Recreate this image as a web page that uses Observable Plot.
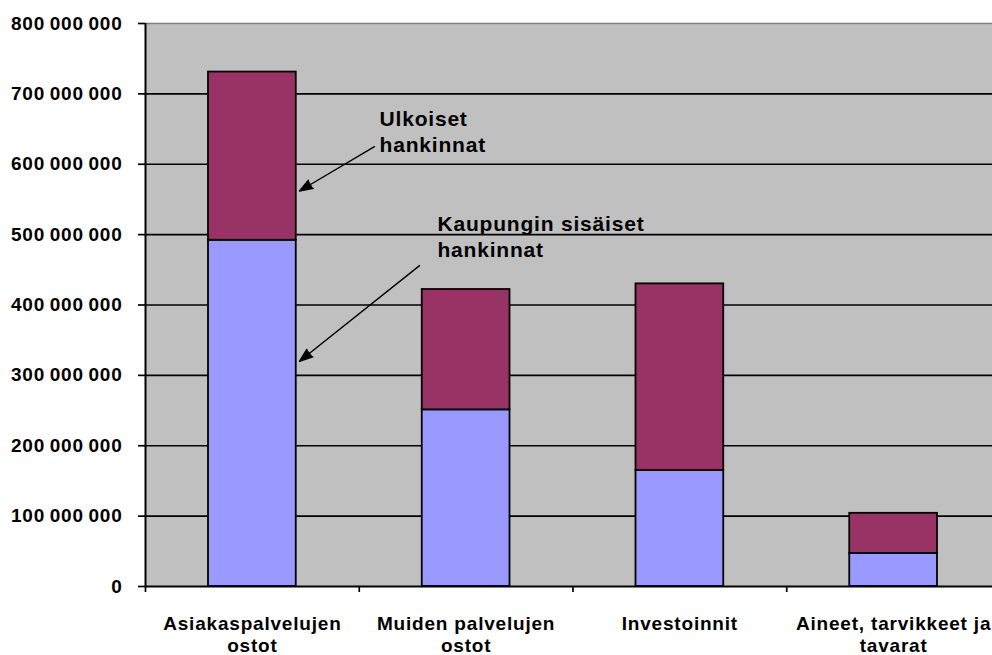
<!DOCTYPE html>
<html>
<head>
<meta charset="utf-8">
<script src="https://cdn.jsdelivr.net/npm/d3@7"></script>
<script src="https://cdn.jsdelivr.net/npm/@observablehq/plot@0.6"></script>
<style>
  html, body { margin: 0; padding: 0; background: white; overflow: hidden; }
  svg { overflow: hidden; }
</style>
</head>
<body>
<div id="chart"></div>
<script>
// Data
const categories = ["Asiakaspalvelujen\nostot", "Muiden palvelujen\nostot", "Investoinnit", "Aineet, tarvikkeet ja\ntavarat"];
const internalValues = [492e6, 251e6, 165e6, 47e6];   // Kaupungin sisäiset hankinnat
const externalValues = [239e6, 171e6, 265e6, 57e6];   // Ulkoiset hankinnat
const yTicks = [0, 100e6, 200e6, 300e6, 400e6, 500e6, 600e6, 700e6, 800e6];
const annotations = [
  {label: "Ulkoiset\nhankinnat", x: 0.595, y: 648e6, ax1: 0.571, ay1: 625e6, ax2: 0.2205, ay2: 562e6},
  {label: "Kaupungin sisäiset\nhankinnat", x: 0.866, y: 498e6, ax1: 0.782, ay1: 456e6, ax2: 0.2205, ay2: 320e6}
];

const bars = [];
categories.forEach((c, i) => {
  bars.push({i, series: "Kaupungin sisäiset hankinnat", y1: 0, y2: internalValues[i]});
  bars.push({i, series: "Ulkoiset hankinnat", y1: internalValues[i], y2: internalValues[i] + externalValues[i]});
});

const fmt = d => d3.format(",")(d).replace(/,/g, "\u2009");

const chart = Plot.plot({
  width: 992,
  height: 655,
  marginLeft: 145,
  marginRight: -8,
  marginTop: 23,
  marginBottom: 69,
  style: {
    fontFamily: "'Liberation Sans', Arial, sans-serif",
    fontSize: "19px",
    fontWeight: "bold",
    letterSpacing: "0.8px",
    color: "black",
    background: "white",
    overflow: "hidden"
  },
  x: {domain: [-0.5, categories.length - 0.5], range: [145, 1000]},
  y: {domain: [0, 800e6]},
  color: {domain: ["Kaupungin sisäiset hankinnat", "Ulkoiset hankinnat"], range: ["#9999FF", "#993366"]},
  marks: [
    Plot.frame({fill: "#C0C0C0", stroke: null}),
    Plot.ruleY(yTicks.filter(d => d > 0 && d < 800e6), {stroke: "black", strokeWidth: 1.7}),
    Plot.ruleY([800e6], {stroke: "#808080", strokeWidth: 1.7}),
    Plot.rect(bars, {
      x1: d => d.i - 0.5, x2: d => d.i + 0.5,
      y1: "y1", y2: "y2",
      insetLeft: 63, insetRight: 63,
      fill: d => d.series,
      stroke: "black", strokeWidth: 1.8
    }),
    Plot.ruleX([-0.5], {stroke: "black", strokeWidth: 2}),
    Plot.ruleY([0], {stroke: "black", strokeWidth: 2}),
    Plot.axisY({ticks: yTicks, tickFormat: fmt, tickSize: 7, tickPadding: 16, strokeWidth: 1.7, fontWeight: "bold"}),
    Plot.axisX({ticks: d3.range(-0.5, categories.length + 0.5, 1), tickFormat: () => "", tickSize: 6, strokeWidth: 1.7}),
    Plot.axisX({ticks: d3.range(categories.length), tickFormat: i => categories[i], tickSize: 0, tickPadding: 28, lineHeight: 1.15, fontWeight: "bold"}),
    Plot.arrow(annotations, {x1: "ax1", y1: "ay1", x2: "ax2", y2: "ay2", stroke: "black", fill: "black", strokeWidth: 1.4, headLength: 15, headAngle: 40}),
    Plot.text(annotations, {x: "x", y: "y", text: "label", textAnchor: "start", lineAnchor: "middle", lineHeight: 1.24, fontSize: 21, fontWeight: "bold", fill: "black"})
  ]
});

document.getElementById("chart").appendChild(chart);
</script>
</body>
</html>
